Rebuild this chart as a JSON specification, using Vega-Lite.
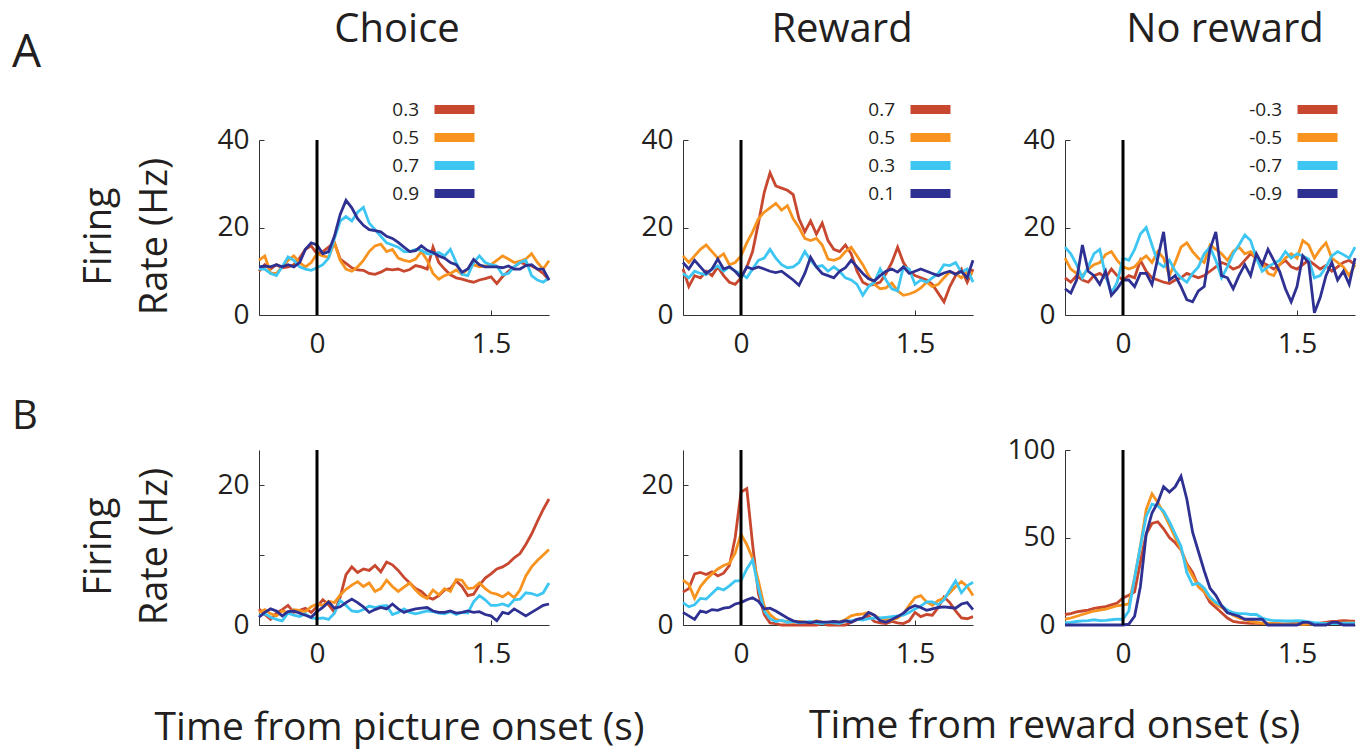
{
"$schema": "https://vega.github.io/schema/vega-lite/v6.json",
"background": "white",
"autosize": {"type": "pad"},
"padding": {"left": 12, "top": 10, "right": 8, "bottom": 4},
"config": {
  "font": "Open Sans",
  "view": {"stroke": null},
  "axis": {"grid": false, "domainColor": "#333333", "domainWidth": 1, "tickColor": "#333333", "tickWidth": 1, "tickSize": -5, "labelFontSize": 28, "labelColor": "#231f20", "titleColor": "#231f20", "titleFontWeight": "normal", "titleFontSize": 38, "titleFont": "Open Sans", "labelFont": "Open Sans"},
  "axisX": {"labelPadding": 20},
  "axisY": {"labelPadding": 15},
  "title": {"fontSize": 40, "fontWeight": "normal", "color": "#231f20", "baseline": "alphabetic", "font": "Open Sans"},
  "legend": {"orient": "none", "title": null, "symbolType": "M-5,0H5", "symbolSize": 64, "symbolStrokeWidth": 9, "labelFontSize": 19, "labelFont": "Open Sans", "labelColor": "#231f20", "labelOffset": -45, "labelAlign": "right", "rowPadding": -9}
},
"datasets": {
"A1": [
{"t":-0.5,"s1":10,"s2":12.5,"s3":10.5,"s4":11},
{"t":-0.45,"s1":11.5,"s2":13.5,"s3":10.5,"s4":11.2},
{"t":-0.4,"s1":10.5,"s2":9.5,"s3":9.5,"s4":11},
{"t":-0.35,"s1":11.5,"s2":9.5,"s3":9,"s4":11.5},
{"t":-0.3,"s1":10.8,"s2":11,"s3":11,"s4":11},
{"t":-0.25,"s1":11,"s2":12.5,"s3":13.3,"s4":11.5},
{"t":-0.2,"s1":11.5,"s2":13.5,"s3":12.5,"s4":11},
{"t":-0.15,"s1":13,"s2":12,"s3":11,"s4":12},
{"t":-0.1,"s1":15,"s2":11,"s3":10.5,"s4":15},
{"t":-0.05,"s1":15.8,"s2":12,"s3":10.2,"s4":16.5},
{"t":0,"s1":14,"s2":14,"s3":10.8,"s4":16},
{"t":0.05,"s1":14.5,"s2":13.5,"s3":11.5,"s4":14},
{"t":0.1,"s1":15.5,"s2":13.2,"s3":13,"s4":14.5},
{"t":0.15,"s1":16.5,"s2":16.5,"s3":17.5,"s4":18},
{"t":0.2,"s1":12.8,"s2":12.5,"s3":21.5,"s4":23},
{"t":0.25,"s1":11.8,"s2":10.5,"s3":22.5,"s4":26.2},
{"t":0.3,"s1":10.8,"s2":10,"s3":21.5,"s4":24.5},
{"t":0.35,"s1":10.3,"s2":11,"s3":23.5,"s4":22},
{"t":0.4,"s1":10.2,"s2":12.5,"s3":24.6,"s4":20.5},
{"t":0.45,"s1":9.5,"s2":14.5,"s3":21,"s4":19.5},
{"t":0.5,"s1":9.3,"s2":15.8,"s3":19.5,"s4":19.3},
{"t":0.55,"s1":9.8,"s2":16.2,"s3":18,"s4":19},
{"t":0.6,"s1":10.5,"s2":14.5,"s3":16.5,"s4":18},
{"t":0.65,"s1":10.3,"s2":15,"s3":16,"s4":17.5},
{"t":0.7,"s1":10.5,"s2":13,"s3":15.5,"s4":16.6},
{"t":0.75,"s1":10,"s2":12.5,"s3":14.5,"s4":15.5},
{"t":0.8,"s1":10.4,"s2":12.2,"s3":14.5,"s4":14.5},
{"t":0.85,"s1":11.3,"s2":12.8,"s3":15,"s4":14.7},
{"t":0.9,"s1":11,"s2":14.5,"s3":14.8,"s4":15.8},
{"t":0.95,"s1":10.5,"s2":12.5,"s3":14,"s4":14.8},
{"t":1.0,"s1":15.5,"s2":9.5,"s3":14,"s4":14.3},
{"t":1.05,"s1":12,"s2":8.2,"s3":14.3,"s4":13.5},
{"t":1.1,"s1":10.5,"s2":9,"s3":13.5,"s4":13},
{"t":1.15,"s1":9.2,"s2":9.5,"s3":15,"s4":12},
{"t":1.2,"s1":8.5,"s2":10.3,"s3":12,"s4":11.5},
{"t":1.25,"s1":8.2,"s2":9.3,"s3":9.3,"s4":9.8},
{"t":1.3,"s1":7.8,"s2":10.5,"s3":9,"s4":10.5},
{"t":1.35,"s1":7.5,"s2":11.5,"s3":12,"s4":12.7},
{"t":1.4,"s1":8,"s2":11,"s3":13.5,"s4":11.5},
{"t":1.45,"s1":8.3,"s2":11.2,"s3":12,"s4":11},
{"t":1.5,"s1":8.7,"s2":11.5,"s3":11.5,"s4":11},
{"t":1.55,"s1":7.2,"s2":12.5,"s3":11.2,"s4":11},
{"t":1.6,"s1":8.8,"s2":13.5,"s3":9.2,"s4":10.8},
{"t":1.65,"s1":10,"s2":12.8,"s3":9.5,"s4":11.2},
{"t":1.7,"s1":11,"s2":12,"s3":11,"s4":10.5},
{"t":1.75,"s1":12,"s2":12.3,"s3":12,"s4":10.5},
{"t":1.8,"s1":11.6,"s2":12.8,"s3":12.5,"s4":11.3},
{"t":1.85,"s1":11.2,"s2":14,"s3":9,"s4":11.5},
{"t":1.9,"s1":10.5,"s2":12,"s3":8,"s4":10.5},
{"t":1.95,"s1":9.5,"s2":10.5,"s3":7.5,"s4":10.5},
{"t":2.0,"s1":8,"s2":12.4,"s3":8.5,"s4":8}
],
"A2": [
{"t":-0.5,"s1":10.5,"s2":13.5,"s3":9.5,"s4":12},
{"t":-0.45,"s1":6.5,"s2":12,"s3":8.5,"s4":10.5},
{"t":-0.4,"s1":9,"s2":13.5,"s3":10,"s4":12.5},
{"t":-0.35,"s1":8.5,"s2":15,"s3":9.5,"s4":11},
{"t":-0.3,"s1":10,"s2":16,"s3":9.2,"s4":9.5},
{"t":-0.25,"s1":9,"s2":14.5,"s3":10.5,"s4":10.5},
{"t":-0.2,"s1":11,"s2":13,"s3":11.2,"s4":12.8},
{"t":-0.15,"s1":9,"s2":14,"s3":10,"s4":10.5},
{"t":-0.1,"s1":7.5,"s2":11.5,"s3":11,"s4":11},
{"t":-0.05,"s1":7,"s2":12,"s3":10,"s4":10},
{"t":0,"s1":8.5,"s2":13.5,"s3":9.5,"s4":8.5},
{"t":0.05,"s1":11,"s2":16.5,"s3":8.5,"s4":11},
{"t":0.1,"s1":14.5,"s2":19,"s3":10.5,"s4":10.5},
{"t":0.15,"s1":21,"s2":22,"s3":12.5,"s4":11},
{"t":0.2,"s1":28,"s2":23.5,"s3":13,"s4":10.5},
{"t":0.25,"s1":32.5,"s2":24.5,"s3":15,"s4":10},
{"t":0.3,"s1":29.5,"s2":25.5,"s3":13,"s4":9.7},
{"t":0.35,"s1":29,"s2":24,"s3":11.5,"s4":10},
{"t":0.4,"s1":28.5,"s2":25,"s3":10.8,"s4":9},
{"t":0.45,"s1":27.5,"s2":22,"s3":11,"s4":8},
{"t":0.5,"s1":22,"s2":20,"s3":12,"s4":6.8},
{"t":0.55,"s1":19,"s2":17.5,"s3":14.5,"s4":9.5},
{"t":0.6,"s1":21.5,"s2":17,"s3":12.5,"s4":13.2},
{"t":0.65,"s1":18.5,"s2":17.5,"s3":11,"s4":11},
{"t":0.7,"s1":21,"s2":16,"s3":11.3,"s4":9.5},
{"t":0.75,"s1":17,"s2":12.8,"s3":10,"s4":9},
{"t":0.8,"s1":15,"s2":12.5,"s3":11,"s4":8.5},
{"t":0.85,"s1":14.5,"s2":13,"s3":10,"s4":10},
{"t":0.9,"s1":16,"s2":14.5,"s3":8.5,"s4":10.8},
{"t":0.95,"s1":14,"s2":15.5,"s3":8,"s4":12.5},
{"t":1.0,"s1":10,"s2":13.5,"s3":7,"s4":11},
{"t":1.05,"s1":7.5,"s2":11.5,"s3":4.5,"s4":9.5},
{"t":1.1,"s1":6.8,"s2":9,"s3":6.5,"s4":8.3},
{"t":1.15,"s1":7,"s2":7,"s3":7.5,"s4":7.8},
{"t":1.2,"s1":7.5,"s2":6,"s3":10.5,"s4":9},
{"t":1.25,"s1":9.5,"s2":6.2,"s3":8,"s4":10},
{"t":1.3,"s1":12,"s2":7.3,"s3":6,"s4":10.5},
{"t":1.35,"s1":15.5,"s2":5.5,"s3":5.5,"s4":9.8},
{"t":1.4,"s1":12,"s2":4.5,"s3":11,"s4":11},
{"t":1.45,"s1":10,"s2":4.8,"s3":10.5,"s4":9.5},
{"t":1.5,"s1":9,"s2":5.3,"s3":7,"s4":10},
{"t":1.55,"s1":8.5,"s2":6.2,"s3":8,"s4":10.5},
{"t":1.6,"s1":8,"s2":7.5,"s3":7.5,"s4":10},
{"t":1.65,"s1":7,"s2":6.5,"s3":8.5,"s4":9.5},
{"t":1.7,"s1":5,"s2":7,"s3":9.5,"s4":9},
{"t":1.75,"s1":3,"s2":8.5,"s3":11.5,"s4":9.6},
{"t":1.8,"s1":6.5,"s2":9.8,"s3":11.3,"s4":10},
{"t":1.85,"s1":9,"s2":9.5,"s3":12,"s4":9.3},
{"t":1.9,"s1":10.5,"s2":8.5,"s3":9.8,"s4":10},
{"t":1.95,"s1":7.5,"s2":9.8,"s3":10.5,"s4":8.5},
{"t":2.0,"s1":10.5,"s2":9.5,"s3":7.5,"s4":12.5}
],
"A3": [
{"t":-0.5,"s1":8.5,"s2":13,"s3":15.5,"s4":6},
{"t":-0.45,"s1":7.5,"s2":10.5,"s3":14,"s4":5},
{"t":-0.4,"s1":9,"s2":9.5,"s3":11.5,"s4":8},
{"t":-0.35,"s1":8,"s2":9,"s3":8.5,"s4":16},
{"t":-0.3,"s1":7.5,"s2":10.5,"s3":11,"s4":10},
{"t":-0.25,"s1":9,"s2":11.5,"s3":14,"s4":9},
{"t":-0.2,"s1":9.5,"s2":12,"s3":15,"s4":7},
{"t":-0.15,"s1":8.5,"s2":13.8,"s3":9,"s4":10},
{"t":-0.1,"s1":10.5,"s2":14.5,"s3":5,"s4":4.5},
{"t":-0.05,"s1":9,"s2":12.5,"s3":7.5,"s4":6},
{"t":0,"s1":8,"s2":11,"s3":13,"s4":8},
{"t":0.05,"s1":9,"s2":10.5,"s3":12.5,"s4":8},
{"t":0.1,"s1":8.5,"s2":11,"s3":15,"s4":6.5},
{"t":0.15,"s1":12.5,"s2":12.5,"s3":18.5,"s4":9.5},
{"t":0.2,"s1":10,"s2":13.5,"s3":20,"s4":9.5},
{"t":0.25,"s1":8.5,"s2":12,"s3":16,"s4":7},
{"t":0.3,"s1":8,"s2":14.5,"s3":12,"s4":13},
{"t":0.35,"s1":7.5,"s2":13,"s3":11,"s4":19},
{"t":0.4,"s1":7.2,"s2":9,"s3":12.5,"s4":8},
{"t":0.45,"s1":8,"s2":12,"s3":10,"s4":9},
{"t":0.5,"s1":8.5,"s2":15.5,"s3":8.5,"s4":6.5},
{"t":0.55,"s1":9.5,"s2":16.5,"s3":7.5,"s4":3.5},
{"t":0.6,"s1":9,"s2":14.5,"s3":9.5,"s4":3},
{"t":0.65,"s1":8.5,"s2":13,"s3":11,"s4":5.5},
{"t":0.7,"s1":9,"s2":12,"s3":14,"s4":6.5},
{"t":0.75,"s1":10,"s2":16,"s3":15.5,"s4":15},
{"t":0.8,"s1":11,"s2":15,"s3":12.5,"s4":19},
{"t":0.85,"s1":12,"s2":14,"s3":8.5,"s4":9},
{"t":0.9,"s1":11.5,"s2":12.5,"s3":11,"s4":8.5},
{"t":0.95,"s1":10.5,"s2":14.5,"s3":14,"s4":6},
{"t":1.0,"s1":11,"s2":15.5,"s3":16,"s4":9},
{"t":1.05,"s1":12.5,"s2":14,"s3":18.3,"s4":11.5},
{"t":1.1,"s1":14,"s2":14.5,"s3":17,"s4":9},
{"t":1.15,"s1":13,"s2":13,"s3":13,"s4":14},
{"t":1.2,"s1":12,"s2":12,"s3":10,"s4":11.5},
{"t":1.25,"s1":11.3,"s2":9.5,"s3":11,"s4":15},
{"t":1.3,"s1":10.5,"s2":9,"s3":11.8,"s4":12.5},
{"t":1.35,"s1":11.5,"s2":11.5,"s3":12.5,"s4":10},
{"t":1.4,"s1":12.5,"s2":13,"s3":14.5,"s4":6},
{"t":1.45,"s1":11,"s2":14,"s3":13,"s4":3},
{"t":1.5,"s1":10.5,"s2":13,"s3":14,"s4":6.5},
{"t":1.55,"s1":11.5,"s2":17,"s3":13.5,"s4":13.5},
{"t":1.6,"s1":12.5,"s2":16,"s3":12.8,"s4":12},
{"t":1.65,"s1":11.5,"s2":13,"s3":8.5,"s4":0.5},
{"t":1.7,"s1":10.5,"s2":15,"s3":9,"s4":4},
{"t":1.75,"s1":11.3,"s2":16.5,"s3":11,"s4":9},
{"t":1.8,"s1":10,"s2":13,"s3":13.5,"s4":12},
{"t":1.85,"s1":11,"s2":12,"s3":14.5,"s4":8},
{"t":1.9,"s1":12,"s2":11,"s3":13.8,"s4":10},
{"t":1.95,"s1":12.5,"s2":9,"s3":13,"s4":7},
{"t":2.0,"s1":11.5,"s2":11.5,"s3":15.5,"s4":13}
],
"B1": [
{"t":-0.5,"s1":2.3,"s2":1.8,"s3":1.3,"s4":1.1},
{"t":-0.45,"s1":1.5,"s2":2.2,"s3":1.6,"s4":1.8},
{"t":-0.4,"s1":0.8,"s2":1.6,"s3":1.1,"s4":2.3},
{"t":-0.35,"s1":1.7,"s2":1.3,"s3":0.8,"s4":2},
{"t":-0.3,"s1":2.2,"s2":2,"s3":0.6,"s4":1.3},
{"t":-0.25,"s1":2.8,"s2":1.8,"s3":1.7,"s4":1.9},
{"t":-0.2,"s1":1.8,"s2":2.2,"s3":1.4,"s4":2},
{"t":-0.15,"s1":2.1,"s2":2.1,"s3":1.2,"s4":1.7},
{"t":-0.1,"s1":2.4,"s2":1.9,"s3":1.6,"s4":1.4},
{"t":-0.05,"s1":1.8,"s2":2.6,"s3":1,"s4":1.1},
{"t":0,"s1":2.6,"s2":3,"s3":0.9,"s4":1.9},
{"t":0.05,"s1":3.6,"s2":2.8,"s3":1,"s4":2.5},
{"t":0.1,"s1":2.9,"s2":3.4,"s3":0.8,"s4":3.3},
{"t":0.15,"s1":1.8,"s2":3.2,"s3":1.7,"s4":2.4},
{"t":0.2,"s1":4,"s2":4.3,"s3":3.5,"s4":2.6},
{"t":0.25,"s1":7.2,"s2":5.1,"s3":2.8,"s4":3.2},
{"t":0.3,"s1":8.3,"s2":5.7,"s3":2,"s4":3.7},
{"t":0.35,"s1":7.5,"s2":6.2,"s3":1.9,"s4":3.2},
{"t":0.4,"s1":8,"s2":5.5,"s3":2.2,"s4":2.6},
{"t":0.45,"s1":7.8,"s2":6,"s3":2.7,"s4":1.8},
{"t":0.5,"s1":8.5,"s2":4.8,"s3":2.5,"s4":2.2},
{"t":0.55,"s1":7.6,"s2":5.2,"s3":2.7,"s4":2.5},
{"t":0.6,"s1":9,"s2":6.4,"s3":2.8,"s4":2.3},
{"t":0.65,"s1":8.6,"s2":5.5,"s3":1.5,"s4":3},
{"t":0.7,"s1":7.8,"s2":4.8,"s3":1.8,"s4":2.3},
{"t":0.75,"s1":6.8,"s2":5.4,"s3":2.3,"s4":1.8},
{"t":0.8,"s1":6,"s2":6,"s3":1.8,"s4":2.1},
{"t":0.85,"s1":5.2,"s2":5,"s3":1.6,"s4":2.3},
{"t":0.9,"s1":4.8,"s2":4.2,"s3":1.8,"s4":2.4},
{"t":0.95,"s1":4,"s2":3.8,"s3":2,"s4":2.5},
{"t":1.0,"s1":3.7,"s2":5,"s3":1.9,"s4":2},
{"t":1.05,"s1":4.2,"s2":4.3,"s3":1.7,"s4":1.8},
{"t":1.1,"s1":5,"s2":5.2,"s3":1.6,"s4":1.8},
{"t":1.15,"s1":5.2,"s2":4.8,"s3":1.9,"s4":2},
{"t":1.2,"s1":6.3,"s2":6.5,"s3":1.5,"s4":1.7},
{"t":1.25,"s1":5.5,"s2":6.4,"s3":1.8,"s4":1.8},
{"t":1.3,"s1":4.2,"s2":5.2,"s3":1.7,"s4":2},
{"t":1.35,"s1":4.4,"s2":5.3,"s3":3.3,"s4":1.8},
{"t":1.4,"s1":5.7,"s2":6,"s3":4.2,"s4":1.9},
{"t":1.45,"s1":6.7,"s2":5.2,"s3":3.6,"s4":1.5},
{"t":1.5,"s1":7.3,"s2":4.6,"s3":2.8,"s4":1.3},
{"t":1.55,"s1":8,"s2":4.4,"s3":2.8,"s4":0.6},
{"t":1.6,"s1":8.3,"s2":4,"s3":3,"s4":1.8},
{"t":1.65,"s1":8.8,"s2":4.6,"s3":2.7,"s4":1.6},
{"t":1.7,"s1":9.6,"s2":3.9,"s3":3.6,"s4":2.3},
{"t":1.75,"s1":10.2,"s2":5,"s3":3.7,"s4":1.8},
{"t":1.8,"s1":11.5,"s2":7,"s3":4.6,"s4":1.3},
{"t":1.85,"s1":13,"s2":8.3,"s3":4.5,"s4":1.8},
{"t":1.9,"s1":14.8,"s2":9.2,"s3":4.2,"s4":2.3},
{"t":1.95,"s1":16.5,"s2":10,"s3":4.6,"s4":2.8},
{"t":2.0,"s1":18,"s2":10.8,"s3":6,"s4":3}
],
"B2": [
{"t":-0.5,"s1":4.7,"s2":6.4,"s3":3.2,"s4":1.8},
{"t":-0.45,"s1":5.2,"s2":5.8,"s3":2.6,"s4":1.3},
{"t":-0.4,"s1":7.3,"s2":3.8,"s3":2.9,"s4":0.8},
{"t":-0.35,"s1":7.5,"s2":5.5,"s3":3.8,"s4":2},
{"t":-0.3,"s1":7.2,"s2":6.5,"s3":3.7,"s4":1.8},
{"t":-0.25,"s1":7.6,"s2":7.3,"s3":4.5,"s4":2.2},
{"t":-0.2,"s1":7,"s2":8,"s3":5.3,"s4":2.1},
{"t":-0.15,"s1":7.4,"s2":8.5,"s3":5,"s4":2.4},
{"t":-0.1,"s1":8.5,"s2":8.8,"s3":5.6,"s4":2.5},
{"t":-0.05,"s1":12.5,"s2":10.3,"s3":6.3,"s4":3},
{"t":0,"s1":19,"s2":13,"s3":6.3,"s4":3.2},
{"t":0.05,"s1":19.5,"s2":11.5,"s3":8,"s4":3.6},
{"t":0.1,"s1":11.5,"s2":9.5,"s3":9.3,"s4":3.9},
{"t":0.15,"s1":4.5,"s2":6.3,"s3":5.3,"s4":3.4},
{"t":0.2,"s1":1.5,"s2":2.7,"s3":2,"s4":2.3},
{"t":0.25,"s1":0.3,"s2":1.5,"s3":0.9,"s4":2.4},
{"t":0.3,"s1":0.2,"s2":0.8,"s3":0.5,"s4":2},
{"t":0.35,"s1":0,"s2":0.6,"s3":0.7,"s4":1.5},
{"t":0.4,"s1":0,"s2":0.5,"s3":0.4,"s4":1},
{"t":0.45,"s1":0,"s2":0.4,"s3":0.5,"s4":0.6},
{"t":0.5,"s1":0,"s2":0.5,"s3":0.3,"s4":0.4},
{"t":0.55,"s1":0,"s2":0.4,"s3":0.4,"s4":0.4},
{"t":0.6,"s1":0,"s2":0.3,"s3":0.5,"s4":0.3},
{"t":0.65,"s1":0,"s2":0.6,"s3":0.3,"s4":0.5},
{"t":0.7,"s1":0.2,"s2":0.4,"s3":0.2,"s4":0.4},
{"t":0.75,"s1":0,"s2":0.3,"s3":0.4,"s4":0.4},
{"t":0.8,"s1":0,"s2":0.5,"s3":0.3,"s4":0.5},
{"t":0.85,"s1":0,"s2":0.4,"s3":0.2,"s4":0.4},
{"t":0.9,"s1":0,"s2":0.8,"s3":0.6,"s4":0.6},
{"t":0.95,"s1":0.4,"s2":1.3,"s3":0.6,"s4":0.4},
{"t":1.0,"s1":0.8,"s2":1.5,"s3":0.8,"s4":0.8},
{"t":1.05,"s1":0.9,"s2":1.6,"s3":0.7,"s4":1},
{"t":1.1,"s1":1.3,"s2":1.8,"s3":0.9,"s4":1.8},
{"t":1.15,"s1":0.5,"s2":1.4,"s3":1,"s4":1.4},
{"t":1.2,"s1":0.3,"s2":0.9,"s3":1,"s4":0.6},
{"t":1.25,"s1":0.2,"s2":0.8,"s3":1.1,"s4":0.4},
{"t":1.3,"s1":0.5,"s2":0.7,"s3":1.2,"s4":0.8},
{"t":1.35,"s1":0.3,"s2":1,"s3":1.3,"s4":1.2},
{"t":1.4,"s1":0.2,"s2":1.6,"s3":1.4,"s4":1.7},
{"t":1.45,"s1":0.6,"s2":2.8,"s3":1.8,"s4":2.4},
{"t":1.5,"s1":1.8,"s2":3.9,"s3":2.3,"s4":2.8},
{"t":1.55,"s1":1.2,"s2":4.2,"s3":2.7,"s4":2.5},
{"t":1.6,"s1":1.5,"s2":3.3,"s3":3.3,"s4":2.1},
{"t":1.65,"s1":1.4,"s2":2.8,"s3":3.3,"s4":2.3},
{"t":1.7,"s1":2.5,"s2":3.5,"s3":2.9,"s4":2.5},
{"t":1.75,"s1":4,"s2":3.8,"s3":3.6,"s4":2.6},
{"t":1.8,"s1":3.2,"s2":4.6,"s3":5,"s4":2.5},
{"t":1.85,"s1":2,"s2":5.5,"s3":6.3,"s4":2.4},
{"t":1.9,"s1":1,"s2":6.2,"s3":4.6,"s4":3},
{"t":1.95,"s1":0.9,"s2":5.5,"s3":5.6,"s4":3.2},
{"t":2.0,"s1":1.2,"s2":4.2,"s3":6.1,"s4":2.2}
],
"B3": [
{"t":-0.5,"s1":6,"s2":3.3,"s3":1.3,"s4":0},
{"t":-0.45,"s1":6.5,"s2":4,"s3":1.5,"s4":0},
{"t":-0.4,"s1":7.5,"s2":5,"s3":2,"s4":0},
{"t":-0.35,"s1":8,"s2":6,"s3":2.3,"s4":0},
{"t":-0.3,"s1":8.5,"s2":7,"s3":2.5,"s4":0},
{"t":-0.25,"s1":9.5,"s2":8,"s3":3,"s4":0},
{"t":-0.2,"s1":10,"s2":8.5,"s3":2.5,"s4":0},
{"t":-0.15,"s1":10.5,"s2":9,"s3":2.7,"s4":0},
{"t":-0.1,"s1":11.5,"s2":10,"s3":3,"s4":0},
{"t":-0.05,"s1":12.5,"s2":11,"s3":3.3,"s4":0},
{"t":0,"s1":15.5,"s2":11.5,"s3":3.3,"s4":0},
{"t":0.05,"s1":17,"s2":12,"s3":8,"s4":0.5},
{"t":0.1,"s1":19,"s2":27,"s3":27,"s4":5},
{"t":0.15,"s1":36,"s2":45,"s3":45,"s4":22},
{"t":0.2,"s1":52,"s2":66,"s3":62,"s4":52},
{"t":0.25,"s1":58,"s2":75,"s3":69,"s4":64},
{"t":0.3,"s1":59,"s2":70,"s3":68,"s4":70},
{"t":0.35,"s1":55,"s2":64,"s3":65,"s4":79},
{"t":0.4,"s1":50,"s2":57,"s3":59,"s4":76},
{"t":0.45,"s1":47,"s2":50,"s3":52,"s4":79},
{"t":0.5,"s1":43,"s2":43,"s3":45,"s4":85},
{"t":0.55,"s1":35,"s2":34,"s3":30,"s4":72},
{"t":0.6,"s1":30,"s2":28,"s3":23,"s4":53},
{"t":0.65,"s1":22,"s2":22,"s3":24,"s4":42},
{"t":0.7,"s1":19,"s2":19,"s3":21,"s4":31},
{"t":0.75,"s1":13,"s2":15,"s3":16,"s4":21},
{"t":0.8,"s1":10,"s2":12,"s3":13,"s4":17},
{"t":0.85,"s1":7,"s2":10,"s3":11,"s4":11},
{"t":0.9,"s1":4,"s2":7.5,"s3":8.5,"s4":7},
{"t":0.95,"s1":2,"s2":5.5,"s3":7,"s4":6},
{"t":1.0,"s1":1.5,"s2":4,"s3":6.5,"s4":5},
{"t":1.05,"s1":1.2,"s2":3,"s3":6.5,"s4":3.3},
{"t":1.1,"s1":1,"s2":2,"s3":6,"s4":3.3},
{"t":1.15,"s1":1,"s2":1.5,"s3":6,"s4":3.3},
{"t":1.2,"s1":0.8,"s2":1,"s3":4,"s4":3.3},
{"t":1.25,"s1":0.8,"s2":1,"s3":3,"s4":0},
{"t":1.3,"s1":0.6,"s2":0.8,"s3":2.5,"s4":0},
{"t":1.35,"s1":0.6,"s2":0.6,"s3":2.5,"s4":0},
{"t":1.4,"s1":0.5,"s2":0.5,"s3":2.3,"s4":0},
{"t":1.45,"s1":0.8,"s2":0.5,"s3":2.3,"s4":0},
{"t":1.5,"s1":0.8,"s2":0.6,"s3":2.5,"s4":0},
{"t":1.55,"s1":0.5,"s2":0.4,"s3":2.3,"s4":1.5},
{"t":1.6,"s1":0.6,"s2":0.5,"s3":1.8,"s4":1.5},
{"t":1.65,"s1":0.8,"s2":0.6,"s3":1.3,"s4":0},
{"t":1.7,"s1":1,"s2":0.5,"s3":1,"s4":0},
{"t":1.75,"s1":1.5,"s2":0.8,"s3":0.8,"s4":0},
{"t":1.8,"s1":2,"s2":1,"s3":1,"s4":1.5},
{"t":1.85,"s1":2.2,"s2":1.2,"s3":0.8,"s4":1.5},
{"t":1.9,"s1":2.5,"s2":1,"s3":1,"s4":0},
{"t":1.95,"s1":2.3,"s2":1.3,"s3":1,"s4":0},
{"t":2.0,"s1":2.2,"s2":1,"s3":1,"s4":0}
]
},
"spacing": -4,
"resolve": {"scale": {"x": "independent", "y": "independent", "color": "independent"}, "legend": {"color": "independent"}},
"hconcat": [
  {
    "title": {"text": "A", "anchor": "start", "fontSize": 46, "dx": 0, "dy": 71},
    "spacing": 135,
    "bounds": "flush",
    "resolve": {"scale": {"x": "independent", "y": "independent", "color": "independent"}, "legend": {"color": "independent"}},
    "vconcat": [
      {
        "width": 290, "height": 175,
        "title": {"text": "Choice", "dx": -7, "offset": 50, "frame": "group"},
        "data": {"name": "A1"},
        "layer": [
          {"transform": [{"fold": ["s1", "s2", "s3", "s4"], "as": ["s", "v"]}],
           "mark": {"type": "line", "strokeWidth": 2.8},
           "encoding": {
             "x": {"field": "t", "type": "quantitative", "scale": {"domain": [-0.5, 2], "nice": false}, "axis": {"values": [0, 1.5], "format": "~g", "title": null}},
             "y": {"field": "v", "type": "quantitative", "scale": {"domain": [0, 40], "nice": false}, "axis": {"values": [0, 20, 40], "title": ["Firing", "Rate (Hz)"], "titleY": 96, "titlePadding": 42, "titleLineHeight": 56}},
             "color": {"field": "s", "type": "nominal", "scale": {"domain": ["s1", "s2", "s3", "s4"], "range": ["#C8472F", "#F7931E", "#3EC6F2", "#2E3192"]},
               "legend": {"legendX": 186, "legendY": -40, "labelFontSize": 19, "symbolStrokeWidth": 9, "rowPadding": -9, "labelExpr": "datum.value=='s1'?'0.3':datum.value=='s2'?'0.5':datum.value=='s3'?'0.7':'0.9'"}}
           }},
          {"data": {"values": [{"t": 0}]}, "mark": {"type": "rule", "color": "black", "strokeWidth": 3}, "encoding": {"x": {"field": "t", "type": "quantitative"}}}
        ]
      },
      {
        "width": 290, "height": 175,
        "title": {"text": "B", "anchor": "start", "frame": "group", "dx": -247, "offset": 12},
        "data": {"name": "B1"},
        "layer": [
          {"transform": [{"fold": ["s1", "s2", "s3", "s4"], "as": ["s", "v"]}],
           "mark": {"type": "line", "strokeWidth": 2.8},
           "encoding": {
             "x": {"field": "t", "type": "quantitative", "scale": {"domain": [-0.5, 2], "nice": false}, "axis": {"values": [0, 1.5], "format": "~g", "title": "Time from picture onset (s)", "titleFontSize": 39, "titleX": 140, "titleY": 114, "titleBaseline": "alphabetic"}},
             "y": {"field": "v", "type": "quantitative", "scale": {"domain": [0, 25], "nice": false}, "axis": {"values": [0, 10, 20], "labelExpr": "datum.value==10?'':datum.label", "title": ["Firing", "Rate (Hz)"], "titleY": 96, "titlePadding": 42, "titleLineHeight": 56}},
             "color": {"field": "s", "type": "nominal", "scale": {"domain": ["s1", "s2", "s3", "s4"], "range": ["#C8472F", "#F7931E", "#3EC6F2", "#2E3192"]}, "legend": null}
           }},
          {"data": {"values": [{"t": 0}]}, "mark": {"type": "rule", "color": "black", "strokeWidth": 3}, "encoding": {"x": {"field": "t", "type": "quantitative"}}}
        ]
      }
    ]
  },
  {
    "title": {"text": "Time from reward onset (s)", "orient": "bottom", "dx": 168, "offset": 39, "fontSize": 39},
    "spacing": 27,
    "resolve": {"scale": {"x": "independent", "y": "independent", "color": "independent"}, "legend": {"color": "independent"}},
    "hconcat": [
      {
        "spacing": 135,
        "bounds": "flush",
        "resolve": {"scale": {"x": "independent", "y": "independent", "color": "independent"}, "legend": {"color": "independent"}},
        "vconcat": [
          {
            "width": 290, "height": 175,
            "title": {"text": "Reward", "dx": 14, "offset": 50, "frame": "group"},
            "data": {"name": "A2"},
            "layer": [
              {"transform": [{"fold": ["s1", "s2", "s3", "s4"], "as": ["s", "v"]}],
               "mark": {"type": "line", "strokeWidth": 2.8},
               "encoding": {
                 "x": {"field": "t", "type": "quantitative", "scale": {"domain": [-0.5, 2], "nice": false}, "axis": {"values": [0, 1.5], "format": "~g", "title": null}},
                 "y": {"field": "v", "type": "quantitative", "scale": {"domain": [0, 40], "nice": false}, "axis": {"values": [0, 20, 40], "title": null}},
                 "color": {"field": "s", "type": "nominal", "scale": {"domain": ["s1", "s2", "s3", "s4"], "range": ["#C8472F", "#F7931E", "#3EC6F2", "#2E3192"]},
                   "legend": {"legendX": 238, "legendY": -40, "labelFontSize": 19, "symbolStrokeWidth": 9, "rowPadding": -9, "labelExpr": "datum.value=='s1'?'0.7':datum.value=='s2'?'0.5':datum.value=='s3'?'0.3':'0.1'"}}
               }},
              {"data": {"values": [{"t": 0}]}, "mark": {"type": "rule", "color": "black", "strokeWidth": 3}, "encoding": {"x": {"field": "t", "type": "quantitative"}}}
            ]
          },
          {
            "width": 290, "height": 175,
            "data": {"name": "B2"},
            "layer": [
              {"transform": [{"fold": ["s1", "s2", "s3", "s4"], "as": ["s", "v"]}],
               "mark": {"type": "line", "strokeWidth": 2.8},
               "encoding": {
                 "x": {"field": "t", "type": "quantitative", "scale": {"domain": [-0.5, 2], "nice": false}, "axis": {"values": [0, 1.5], "format": "~g", "title": null}},
                 "y": {"field": "v", "type": "quantitative", "scale": {"domain": [0, 25], "nice": false}, "axis": {"values": [0, 10, 20], "labelExpr": "datum.value==10?'':datum.label", "title": null}},
                 "color": {"field": "s", "type": "nominal", "scale": {"domain": ["s1", "s2", "s3", "s4"], "range": ["#C8472F", "#F7931E", "#3EC6F2", "#2E3192"]}, "legend": null}
               }},
              {"data": {"values": [{"t": 0}]}, "mark": {"type": "rule", "color": "black", "strokeWidth": 3}, "encoding": {"x": {"field": "t", "type": "quantitative"}}}
            ]
          }
        ]
      },
      {
        "spacing": 135,
        "bounds": "flush",
        "resolve": {"scale": {"x": "independent", "y": "independent", "color": "independent"}, "legend": {"color": "independent"}},
        "vconcat": [
          {
            "width": 290, "height": 175,
            "title": {"text": "No reward", "dx": 15, "offset": 50, "frame": "group"},
            "data": {"name": "A3"},
            "layer": [
              {"transform": [{"fold": ["s1", "s2", "s3", "s4"], "as": ["s", "v"]}],
               "mark": {"type": "line", "strokeWidth": 2.8},
               "encoding": {
                 "x": {"field": "t", "type": "quantitative", "scale": {"domain": [-0.5, 2], "nice": false}, "axis": {"values": [0, 1.5], "format": "~g", "title": null}},
                 "y": {"field": "v", "type": "quantitative", "scale": {"domain": [0, 40], "nice": false}, "axis": {"values": [0, 20, 40], "title": null}},
                 "color": {"field": "s", "type": "nominal", "scale": {"domain": ["s1", "s2", "s3", "s4"], "range": ["#C8472F", "#F7931E", "#3EC6F2", "#2E3192"]},
                   "legend": {"legendX": 243, "legendY": -40, "labelFontSize": 19, "symbolStrokeWidth": 9, "rowPadding": -9, "labelExpr": "datum.value=='s1'?'-0.3':datum.value=='s2'?'-0.5':datum.value=='s3'?'-0.7':'-0.9'"}}
               }},
              {"data": {"values": [{"t": 0}]}, "mark": {"type": "rule", "color": "black", "strokeWidth": 3}, "encoding": {"x": {"field": "t", "type": "quantitative"}}}
            ]
          },
          {
            "width": 290, "height": 175,
            "data": {"name": "B3"},
            "layer": [
              {"transform": [{"fold": ["s1", "s2", "s3", "s4"], "as": ["s", "v"]}],
               "mark": {"type": "line", "strokeWidth": 2.8},
               "encoding": {
                 "x": {"field": "t", "type": "quantitative", "scale": {"domain": [-0.5, 2], "nice": false}, "axis": {"values": [0, 1.5], "format": "~g", "title": null}},
                 "y": {"field": "v", "type": "quantitative", "scale": {"domain": [0, 100], "nice": false}, "axis": {"values": [0, 50, 100], "title": null}},
                 "color": {"field": "s", "type": "nominal", "scale": {"domain": ["s1", "s2", "s3", "s4"], "range": ["#C8472F", "#F7931E", "#3EC6F2", "#2E3192"]}, "legend": null}
               }},
              {"data": {"values": [{"t": 0}]}, "mark": {"type": "rule", "color": "black", "strokeWidth": 3}, "encoding": {"x": {"field": "t", "type": "quantitative"}}}
            ]
          }
        ]
      }
    ]
  }
]
}
